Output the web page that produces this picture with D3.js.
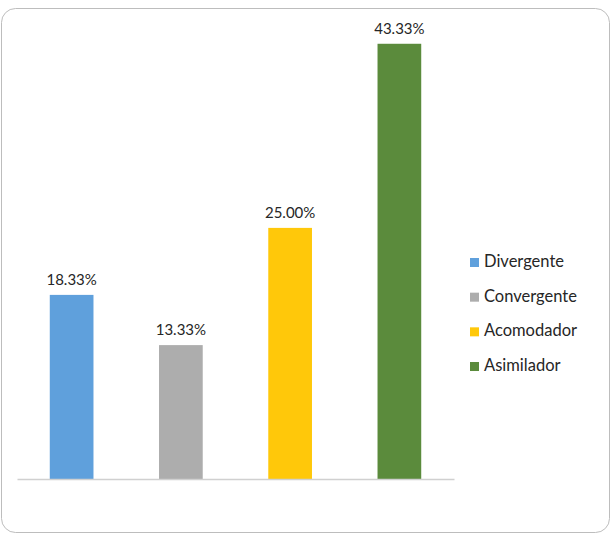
<!DOCTYPE html>
<html><head><meta charset="utf-8">
<script src="https://cdn.jsdelivr.net/npm/d3@7"></script>
<style>body{margin:0;background:#fff}svg{display:block}</style>
</head><body>
<script>
const categories = ["Divergente","Convergente","Acomodador","Asimilador"];
const values = [18.33, 13.33, 25.00, 43.33];
const labels = ["18.33%","13.33%","25.00%","43.33%"];
const colors = ["#5FA0DC","#ADADAD","#FFC80A","#5B8B3C"];

const W = 613, H = 540;
const svg = d3.select("body").append("svg").attr("width", W).attr("height", H);
const font = "Lato, 'Open Sans', 'Noto Sans', sans-serif";

svg.append("rect").attr("x",1.5).attr("y",8.5).attr("width",608).attr("height",524)
  .attr("rx",14).attr("fill","#fff").attr("stroke","#BDBDBD").attr("stroke-width",1);

const x = d3.scaleBand().domain(categories).range([17,454]).paddingInner(0.6).paddingOuter(0.3);
const y = d3.scaleLinear().domain([0,45]).range([479,27]);

svg.selectAll("rect.bar").data(values).join("rect").attr("class","bar")
  .attr("x",(d,i)=>x(categories[i])).attr("width",x.bandwidth())
  .attr("y",d=>y(d)).attr("height",d=>y(0)-y(d))
  .attr("fill",(d,i)=>colors[i]);

svg.selectAll("text.lbl").data(values).join("text").attr("class","lbl")
  .attr("x",(d,i)=>x(categories[i])+x.bandwidth()/2).attr("y",d=>y(d)-10)
  .attr("text-anchor","middle").attr("font-family",font).attr("font-size",15).attr("fill","#262626")
  .text((d,i)=>labels[i]);

const axis = svg.append("g").attr("transform","translate(0,479)")
  .call(d3.axisBottom(x).tickSize(0).tickFormat(""));
axis.select(".domain").attr("stroke","#D0D0D0").attr("stroke-width",1.5);

const leg = svg.append("g");
categories.forEach((c,i)=>{
  const by = 267 + i*34.67;
  leg.append("rect").attr("x",470).attr("y",by-9).attr("width",9).attr("height",9).attr("fill",colors[i]);
  leg.append("text").attr("x",484).attr("y",by).attr("font-family",font).attr("font-size",16.5)
    .attr("fill","#262626").text(c);
});
</script>
</body></html>
